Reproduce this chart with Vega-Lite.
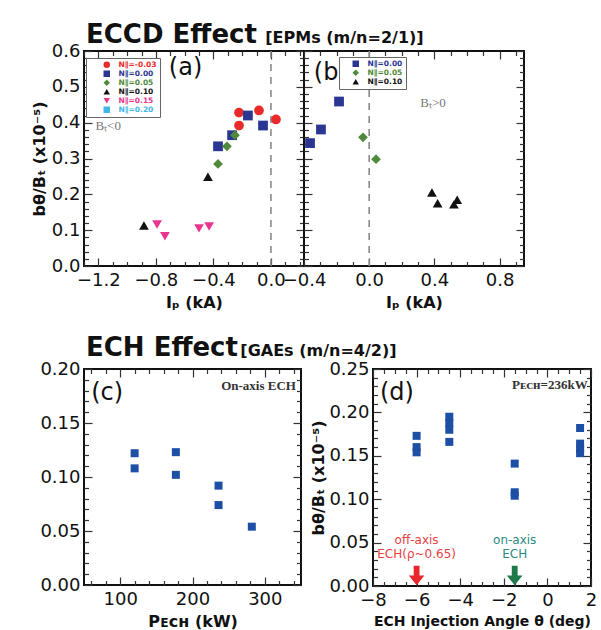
{
  "$schema": "https://vega.github.io/schema/vega-lite/v6.json",
  "background": "white",
  "padding": {"left": 30, "top": 21, "right": 0, "bottom": 0},
  "config": {
    "font": "DejaVu Sans",
    "view": {"stroke": "#111", "strokeWidth": 2},
    "axis": {
      "domain": false, "grid": false,
      "labelFont": "DejaVu Sans", "labelFontSize": 18, "labelColor": "#111",
      "labelOverlap": false, "labelFlush": false, "labelPadding": 12,
      "tickColor": "#333", "tickWidth": 1.2,
      "titleFont": "DejaVu Sans", "titleFontSize": 16, "titleFontWeight": "bold", "titleColor": "#111"
    },
    "legend": {"labelFont": "DejaVu Sans"}
  },
  "datasets": {
    "eccdNeg": [
      {"ip": -0.222, "b": 0.428, "n": "N∥=-0.03"},
      {"ip": -0.083, "b": 0.434, "n": "N∥=-0.03"},
      {"ip": 0.035, "b": 0.409, "n": "N∥=-0.03"},
      {"ip": -0.222, "b": 0.392, "n": "N∥=-0.03"},
      {"ip": -0.16, "b": 0.42, "n": "N∥=0.00"},
      {"ip": -0.055, "b": 0.392, "n": "N∥=0.00"},
      {"ip": -0.27, "b": 0.365, "n": "N∥=0.00"},
      {"ip": -0.368, "b": 0.334, "n": "N∥=0.00"},
      {"ip": -0.25, "b": 0.365, "n": "N∥=0.05"},
      {"ip": -0.306, "b": 0.334, "n": "N∥=0.05"},
      {"ip": -0.368, "b": 0.285, "n": "N∥=0.05"},
      {"ip": -0.438, "b": 0.249, "n": "N∥=0.10"},
      {"ip": -0.883, "b": 0.113, "n": "N∥=0.10"},
      {"ip": -0.792, "b": 0.116, "n": "N∥=0.15"},
      {"ip": -0.737, "b": 0.083, "n": "N∥=0.15"},
      {"ip": -0.5, "b": 0.105, "n": "N∥=0.15"},
      {"ip": -0.43, "b": 0.11, "n": "N∥=0.15"}
    ],
    "eccdPos": [
      {"ip": -0.185, "b": 0.459, "n": "N∥=0.00"},
      {"ip": -0.296, "b": 0.381, "n": "N∥=0.00"},
      {"ip": -0.363, "b": 0.343, "n": "N∥=0.00"},
      {"ip": -0.038, "b": 0.359, "n": "N∥=0.05"},
      {"ip": 0.042, "b": 0.298, "n": "N∥=0.05"},
      {"ip": 0.385, "b": 0.205, "n": "N∥=0.10"},
      {"ip": 0.42, "b": 0.175, "n": "N∥=0.10"},
      {"ip": 0.52, "b": 0.172, "n": "N∥=0.10"},
      {"ip": 0.54, "b": 0.185, "n": "N∥=0.10"}
    ],
    "echPower": [
      {"p": 120, "b": 0.122},
      {"p": 120, "b": 0.108},
      {"p": 177, "b": 0.123},
      {"p": 177, "b": 0.102},
      {"p": 236, "b": 0.092},
      {"p": 236, "b": 0.074},
      {"p": 282, "b": 0.054}
    ],
    "echAngle": [
      {"theta": -6, "b": 0.173},
      {"theta": -6, "b": 0.160},
      {"theta": -6, "b": 0.154},
      {"theta": -4.5, "b": 0.195},
      {"theta": -4.5, "b": 0.188},
      {"theta": -4.5, "b": 0.180},
      {"theta": -4.5, "b": 0.166},
      {"theta": -1.5, "b": 0.141},
      {"theta": -1.5, "b": 0.108},
      {"theta": -1.5, "b": 0.104},
      {"theta": 1.5, "b": 0.182},
      {"theta": 1.5, "b": 0.164},
      {"theta": 1.5, "b": 0.158},
      {"theta": 1.5, "b": 0.153}
    ]
  },
  "spacing": 22,
  "vconcat": [
    {
      "bounds": "flush",
      "spacing": 0,
      "resolve": {"scale": {"color": "independent", "shape": "independent"}, "legend": {"color": "independent", "shape": "independent"}},
      "hconcat": [
        {
          "width": 220, "height": 215,
          "data": {"name": "eccdNeg"},
          "resolve": {"axis": {"x": "independent", "y": "independent"}},
          "layer": [
            {
              "mark": {"type": "point", "opacity": 0},
              "encoding": {
                "x": {"field": "ip", "type": "quantitative",
                  "scale": {"domain": [-1.3, 0.23], "nice": false, "zero": false},
                  "axis": {"orient": "top", "labels": false, "title": null,
                    "values": [-1.3,-1.2,-1.1,-1,-0.9,-0.8,-0.7,-0.6,-0.5,-0.4,-0.3,-0.2,-0.1,0,0.1,0.2],
                    "tickSize": {"condition": {"test": "abs(datum.value/0.4 - round(datum.value/0.4)) < 1e-6", "value": -8}, "value": -4.5}}},
                "y": {"field": "b", "type": "quantitative",
                  "scale": {"domain": [0, 0.6], "nice": false},
                  "axis": {"orient": "right", "labels": false, "title": null,
                    "values": [0,0.02,0.04,0.06,0.08,0.1,0.12,0.14,0.16,0.18,0.2,0.22,0.24,0.26,0.28,0.3,0.32,0.34,0.36,0.38,0.4,0.42,0.44,0.46,0.48,0.5,0.52,0.54,0.56,0.58,0.6],
                    "tickSize": {"condition": {"test": "abs(datum.value*10 - round(datum.value*10)) < 1e-6", "value": -8}, "value": -4.5}}}
              }
            },
            {
              "data": {"values": [{}]},
              "mark": {"type": "rule", "color": "#8a8a8a", "strokeDash": [7, 6], "strokeWidth": 1.6},
              "encoding": {"x": {"datum": 0, "axis": null}}
            },
            {
              "mark": {"type": "point", "filled": true, "size": 95, "opacity": 1},
              "encoding": {
                "x": {"field": "ip", "type": "quantitative",
                  "axis": {"orient": "bottom", "title": "Iₚ (kA)",
                    "values": [-1.3,-1.2,-1.1,-1,-0.9,-0.8,-0.7,-0.6,-0.5,-0.4,-0.3,-0.2,-0.1,0,0.1,0.2],
                    "labelExpr": "abs(datum.value/0.4 - round(datum.value/0.4)) < 1e-6 ? format(datum.value, '.1f') : ''",
                    "labelPadding": 13, "titlePadding": 2,
                    "tickSize": {"condition": {"test": "abs(datum.value/0.4 - round(datum.value/0.4)) < 1e-6", "value": -8}, "value": -4.5}}},
                "y": {"field": "b", "type": "quantitative",
                  "axis": {"orient": "left", "title": "bθ/Bₜ (x10⁻⁵)",
                    "values": [0,0.02,0.04,0.06,0.08,0.1,0.12,0.14,0.16,0.18,0.2,0.22,0.24,0.26,0.28,0.3,0.32,0.34,0.36,0.38,0.4,0.42,0.44,0.46,0.48,0.5,0.52,0.54,0.56,0.58,0.6],
                    "labelExpr": "abs(datum.value*10 - round(datum.value*10)) < 1e-6 ? format(datum.value, '.1f') : ''",
                    "labelPadding": 12, "titlePadding": 4,
                    "tickSize": {"condition": {"test": "abs(datum.value*10 - round(datum.value*10)) < 1e-6", "value": -8}, "value": -4.5}}},
                "color": {"field": "n", "type": "nominal",
                  "scale": {"domain": ["N∥=-0.03", "N∥=0.00", "N∥=0.05", "N∥=0.10", "N∥=0.15", "N∥=0.20"],
                            "range": ["#e82a2a", "#2b3592", "#4f8a3c", "#111111", "#e8368f", "#3fb7e8"]},
                  "legend": {"orient": "none", "legendX": 2, "legendY": 7, "title": null,
                    "strokeColor": "#666", "fillColor": "white", "padding": 3, "rowPadding": 0, "symbolOffset": 14,
                    "symbolSize": 42, "symbolStrokeWidth": 0, "labelFontSize": 7.5, "labelFontWeight": "bold", "labelOffset": 8,
                    "labelColor": {"expr": "datum.value == 'N∥=-0.03' ? '#e82a2a' : datum.value == 'N∥=0.00' ? '#2b3592' : datum.value == 'N∥=0.05' ? '#4f8a3c' : datum.value == 'N∥=0.10' ? '#111111' : datum.value == 'N∥=0.15' ? '#e8368f' : '#3fb7e8'"}}},
                "shape": {"field": "n", "type": "nominal",
                  "scale": {"domain": ["N∥=-0.03", "N∥=0.00", "N∥=0.05", "N∥=0.10", "N∥=0.15", "N∥=0.20"],
                            "range": ["circle", "square", "diamond", "triangle-up", "triangle-down", "square"]},
                  "legend": {"orient": "none", "legendX": 2, "legendY": 7, "title": null,
                    "strokeColor": "#666", "fillColor": "white", "padding": 3, "rowPadding": 0, "symbolOffset": 14,
                    "symbolSize": 42, "symbolStrokeWidth": 0, "labelFontSize": 7.5, "labelFontWeight": "bold", "labelOffset": 8,
                    "labelColor": {"expr": "datum.value == 'N∥=-0.03' ? '#e82a2a' : datum.value == 'N∥=0.00' ? '#2b3592' : datum.value == 'N∥=0.05' ? '#4f8a3c' : datum.value == 'N∥=0.10' ? '#111111' : datum.value == 'N∥=0.15' ? '#e8368f' : '#3fb7e8'"}}}
              }
            },
            {
              "data": {"values": [{}]},
              "mark": {"type": "text", "text": "ECCD Effect", "font": "DejaVu Sans", "fontSize": 26, "fontWeight": "bold", "align": "left", "baseline": "alphabetic", "dy": -8, "dx": 2, "color": "#111"},
              "encoding": {"x": {"datum": -1.3, "axis": null}, "y": {"datum": 0.6, "axis": null}}
            },
            {
              "data": {"values": [{}]},
              "mark": {"type": "text", "text": "[EPMs (m/n=2/1)]", "font": "DejaVu Sans", "fontSize": 16, "fontWeight": "bold", "align": "left", "baseline": "alphabetic", "dy": -8, "dx": 3, "color": "#111"},
              "encoding": {"x": {"datum": -0.06, "axis": null}, "y": {"datum": 0.6, "axis": null}}
            },
            {
              "data": {"values": [{}]},
              "mark": {"type": "text", "text": "(a)", "font": "DejaVu Sans", "fontSize": 24, "align": "left", "baseline": "middle", "color": "#111"},
              "encoding": {"x": {"datum": -0.71, "axis": null}, "y": {"datum": 0.552, "axis": null}}
            },
            {
              "data": {"values": [{}]},
              "mark": {"type": "text", "text": "Bₜ<0", "font": "Liberation Serif", "fontSize": 13, "align": "left", "baseline": "middle", "color": "#777"},
              "encoding": {"x": {"datum": -1.22, "axis": null}, "y": {"datum": 0.392, "axis": null}}
            }
          ]
        },
        {
          "width": 220, "height": 215,
          "data": {"name": "eccdPos"},
          "resolve": {"axis": {"x": "independent", "y": "independent"}},
          "layer": [
            {
              "mark": {"type": "point", "opacity": 0},
              "encoding": {
                "x": {"field": "ip", "type": "quantitative",
                  "scale": {"domain": [-0.4, 0.95], "nice": false, "zero": false},
                  "axis": {"orient": "top", "labels": false, "title": null,
                    "values": [-0.4,-0.3,-0.2,-0.1,0,0.1,0.2,0.3,0.4,0.5,0.6,0.7,0.8,0.9],
                    "tickSize": {"condition": {"test": "abs(datum.value/0.4 - round(datum.value/0.4)) < 1e-6", "value": -8}, "value": -4.5}}},
                "y": {"field": "b", "type": "quantitative",
                  "scale": {"domain": [0, 0.6], "nice": false},
                  "axis": {"orient": "right", "labels": false, "title": null,
                    "values": [0,0.02,0.04,0.06,0.08,0.1,0.12,0.14,0.16,0.18,0.2,0.22,0.24,0.26,0.28,0.3,0.32,0.34,0.36,0.38,0.4,0.42,0.44,0.46,0.48,0.5,0.52,0.54,0.56,0.58,0.6],
                    "tickSize": {"condition": {"test": "abs(datum.value*10 - round(datum.value*10)) < 1e-6", "value": -8}, "value": -4.5}}}
              }
            },
            {
              "data": {"values": [{}]},
              "mark": {"type": "rule", "color": "#8a8a8a", "strokeDash": [7, 6], "strokeWidth": 1.6},
              "encoding": {"x": {"datum": 0, "axis": null}}
            },
            {
              "mark": {"type": "point", "filled": true, "size": 95, "opacity": 1},
              "encoding": {
                "x": {"field": "ip", "type": "quantitative",
                  "axis": {"orient": "bottom", "title": "Iₚ (kA)",
                    "values": [-0.4,-0.3,-0.2,-0.1,0,0.1,0.2,0.3,0.4,0.5,0.6,0.7,0.8,0.9],
                    "labelExpr": "abs(datum.value/0.4 - round(datum.value/0.4)) < 1e-6 ? format(datum.value, '.1f') : ''",
                    "labelPadding": 13, "titlePadding": 2,
                    "tickSize": {"condition": {"test": "abs(datum.value/0.4 - round(datum.value/0.4)) < 1e-6", "value": -8}, "value": -4.5}}},
                "y": {"field": "b", "type": "quantitative",
                  "axis": {"orient": "left", "title": null, "labels": false,
                    "values": [0,0.02,0.04,0.06,0.08,0.1,0.12,0.14,0.16,0.18,0.2,0.22,0.24,0.26,0.28,0.3,0.32,0.34,0.36,0.38,0.4,0.42,0.44,0.46,0.48,0.5,0.52,0.54,0.56,0.58,0.6],
                    "tickSize": {"condition": {"test": "abs(datum.value*10 - round(datum.value*10)) < 1e-6", "value": -8}, "value": -4.5}}},
                "color": {"field": "n", "type": "nominal",
                  "scale": {"domain": ["N∥=0.00", "N∥=0.05", "N∥=0.10"], "range": ["#2b3592", "#4f8a3c", "#111111"]},
                  "legend": {"orient": "none", "legendX": 35, "legendY": 6, "title": null,
                    "strokeColor": "#666", "fillColor": "white", "padding": 3, "rowPadding": 0, "symbolOffset": 10,
                    "symbolSize": 42, "symbolStrokeWidth": 0, "labelFontSize": 7.5, "labelFontWeight": "bold", "labelOffset": 8,
                    "labelColor": {"expr": "datum.value == 'N∥=0.00' ? '#2b3592' : datum.value == 'N∥=0.05' ? '#4f8a3c' : '#111111'"}}},
                "shape": {"field": "n", "type": "nominal",
                  "scale": {"domain": ["N∥=0.00", "N∥=0.05", "N∥=0.10"], "range": ["square", "diamond", "triangle-up"]},
                  "legend": {"orient": "none", "legendX": 35, "legendY": 6, "title": null,
                    "strokeColor": "#666", "fillColor": "white", "padding": 3, "rowPadding": 0, "symbolOffset": 10,
                    "symbolSize": 42, "symbolStrokeWidth": 0, "labelFontSize": 7.5, "labelFontWeight": "bold", "labelOffset": 8,
                    "labelColor": {"expr": "datum.value == 'N∥=0.00' ? '#2b3592' : datum.value == 'N∥=0.05' ? '#4f8a3c' : '#111111'"}}}
              }
            },
            {
              "data": {"values": [{}]},
              "mark": {"type": "text", "text": "(b)", "font": "DejaVu Sans", "fontSize": 24, "align": "left", "baseline": "middle", "color": "#111"},
              "encoding": {"x": {"datum": -0.34, "axis": null}, "y": {"datum": 0.54, "axis": null}}
            },
            {
              "data": {"values": [{}]},
              "mark": {"type": "text", "text": "Bₜ>0", "font": "Liberation Serif", "fontSize": 13, "align": "right", "baseline": "middle", "color": "#777"},
              "encoding": {"x": {"datum": 0.47, "axis": null}, "y": {"datum": 0.455, "axis": null}}
            }
          ]
        }
      ]
    },
    {
      "bounds": "flush",
      "spacing": 72,
      "hconcat": [
        {
          "width": 217, "height": 216,
          "data": {"name": "echPower"},
          "resolve": {"axis": {"x": "independent", "y": "independent"}},
          "layer": [
            {
              "mark": {"type": "point", "opacity": 0},
              "encoding": {
                "x": {"field": "p", "type": "quantitative",
                  "scale": {"domain": [50, 350], "nice": false, "zero": false},
                  "axis": {"orient": "top", "labels": false, "title": null,
                    "values": [60,80,100,120,140,160,180,200,220,240,260,280,300,320,340],
                    "tickSize": {"condition": {"test": "datum.value % 100 == 0", "value": -8}, "value": -4.5}}},
                "y": {"field": "b", "type": "quantitative",
                  "scale": {"domain": [0, 0.2], "nice": false},
                  "axis": {"orient": "right", "labels": false, "title": null,
                    "values": [0,0.01,0.02,0.03,0.04,0.05,0.06,0.07,0.08,0.09,0.1,0.11,0.12,0.13,0.14,0.15,0.16,0.17,0.18,0.19,0.2],
                    "tickSize": {"condition": {"test": "abs(datum.value*20 - round(datum.value*20)) < 1e-6", "value": -8}, "value": -4.5}}}
              }
            },
            {
              "mark": {"type": "square", "size": 64, "color": "#1d4fa5", "opacity": 1},
              "encoding": {
                "x": {"field": "p", "type": "quantitative",
                  "axis": {"orient": "bottom", "title": "Pᴇᴄʜ (kW)",
                    "values": [60,80,100,120,140,160,180,200,220,240,260,280,300,320,340],
                    "labelExpr": "datum.value % 100 == 0 ? format(datum.value, 'd') : ''",
                    "labelPadding": 13, "titlePadding": 2,
                    "tickSize": {"condition": {"test": "datum.value % 100 == 0", "value": -8}, "value": -4.5}}},
                "y": {"field": "b", "type": "quantitative",
                  "axis": {"orient": "left", "title": null,
                    "values": [0,0.01,0.02,0.03,0.04,0.05,0.06,0.07,0.08,0.09,0.1,0.11,0.12,0.13,0.14,0.15,0.16,0.17,0.18,0.19,0.2],
                    "labelExpr": "abs(datum.value*20 - round(datum.value*20)) < 1e-6 ? format(datum.value, '.2f') : ''",
                    "labelPadding": 12,
                    "tickSize": {"condition": {"test": "abs(datum.value*20 - round(datum.value*20)) < 1e-6", "value": -8}, "value": -4.5}}}
              }
            },
            {
              "data": {"values": [{}]},
              "mark": {"type": "text", "text": "ECH Effect", "font": "DejaVu Sans", "fontSize": 26, "fontWeight": "bold", "align": "left", "baseline": "alphabetic", "dy": -13, "dx": 2, "color": "#111"},
              "encoding": {"x": {"datum": 50, "axis": null}, "y": {"datum": 0.2, "axis": null}}
            },
            {
              "data": {"values": [{}]},
              "mark": {"type": "text", "text": "[GAEs (m/n=4/2)]", "font": "DejaVu Sans", "fontSize": 16, "fontWeight": "bold", "align": "left", "baseline": "alphabetic", "dy": -13, "dx": 3, "color": "#111"},
              "encoding": {"x": {"datum": 262, "axis": null}, "y": {"datum": 0.2, "axis": null}}
            },
            {
              "data": {"values": [{}]},
              "mark": {"type": "text", "text": "(c)", "font": "DejaVu Sans", "fontSize": 24, "align": "left", "baseline": "middle", "color": "#111"},
              "encoding": {"x": {"datum": 60, "axis": null}, "y": {"datum": 0.178, "axis": null}}
            },
            {
              "data": {"values": [{}]},
              "mark": {"type": "text", "text": "On-axis ECH", "font": "Liberation Serif", "fontSize": 13, "fontWeight": "bold", "align": "right", "baseline": "middle", "color": "#333"},
              "encoding": {"x": {"datum": 343, "axis": null}, "y": {"datum": 0.184, "axis": null}}
            }
          ]
        },
        {
          "width": 218, "height": 217,
          "data": {"name": "echAngle"},
          "resolve": {"axis": {"x": "independent", "y": "independent"}},
          "layer": [
            {
              "mark": {"type": "point", "opacity": 0},
              "encoding": {
                "x": {"field": "theta", "type": "quantitative",
                  "scale": {"domain": [-8, 2], "nice": false, "zero": false},
                  "axis": {"orient": "top", "labels": false, "title": null,
                    "values": [-8,-7.5,-7,-6.5,-6,-5.5,-5,-4.5,-4,-3.5,-3,-2.5,-2,-1.5,-1,-0.5,0,0.5,1,1.5,2],
                    "tickSize": {"condition": {"test": "datum.value % 2 == 0", "value": -8}, "value": -4.5}}},
                "y": {"field": "b", "type": "quantitative",
                  "scale": {"domain": [0, 0.25], "nice": false},
                  "axis": {"orient": "right", "labels": false, "title": null,
                    "values": [0,0.01,0.02,0.03,0.04,0.05,0.06,0.07,0.08,0.09,0.1,0.11,0.12,0.13,0.14,0.15,0.16,0.17,0.18,0.19,0.2,0.21,0.22,0.23,0.24,0.25],
                    "tickSize": {"condition": {"test": "abs(datum.value*20 - round(datum.value*20)) < 1e-6", "value": -8}, "value": -4.5}}}
              }
            },
            {
              "mark": {"type": "square", "size": 64, "color": "#1d4fa5", "opacity": 1},
              "encoding": {
                "x": {"field": "theta", "type": "quantitative",
                  "axis": {"orient": "bottom", "title": "ECH Injection Angle θ (deg)",
                    "values": [-8,-7.5,-7,-6.5,-6,-5.5,-5,-4.5,-4,-3.5,-3,-2.5,-2,-1.5,-1,-0.5,0,0.5,1,1.5,2],
                    "labelExpr": "datum.value % 2 == 0 ? format(datum.value, 'd') : ''",
                    "labelPadding": 13, "titlePadding": 2, "titleFontSize": 14,
                    "tickSize": {"condition": {"test": "datum.value % 2 == 0", "value": -8}, "value": -4.5}}},
                "y": {"field": "b", "type": "quantitative",
                  "axis": {"orient": "left", "title": "bθ/Bₜ (x10⁻⁵)", "titlePadding": 2,
                    "values": [0,0.01,0.02,0.03,0.04,0.05,0.06,0.07,0.08,0.09,0.1,0.11,0.12,0.13,0.14,0.15,0.16,0.17,0.18,0.19,0.2,0.21,0.22,0.23,0.24,0.25],
                    "labelExpr": "abs(datum.value*20 - round(datum.value*20)) < 1e-6 ? format(datum.value, '.2f') : ''",
                    "labelPadding": 12,
                    "tickSize": {"condition": {"test": "abs(datum.value*20 - round(datum.value*20)) < 1e-6", "value": -8}, "value": -4.5}}}
              }
            },
            {
              "data": {"values": [{}]},
              "mark": {"type": "text", "text": "(d)", "font": "DejaVu Sans", "fontSize": 24, "align": "left", "baseline": "middle", "color": "#111"},
              "encoding": {"x": {"datum": -7.68, "axis": null}, "y": {"datum": 0.222, "axis": null}}
            },
            {
              "data": {"values": [{}]},
              "mark": {"type": "text", "text": "Pᴇᴄʜ=236kW", "font": "Liberation Serif", "fontSize": 13, "fontWeight": "bold", "align": "right", "baseline": "middle", "color": "#333"},
              "encoding": {"x": {"datum": 1.85, "axis": null}, "y": {"datum": 0.232, "axis": null}}
            },
            {
              "data": {"values": [{}]},
              "mark": {"type": "text", "text": "off-axis", "font": "DejaVu Sans", "fontSize": 12, "align": "center", "baseline": "middle", "color": "#e8403f"},
              "encoding": {"x": {"datum": -6, "axis": null}, "y": {"datum": 0.0535, "axis": null}}
            },
            {
              "data": {"values": [{}]},
              "mark": {"type": "text", "text": "ECH(ρ~0.65)", "font": "DejaVu Sans", "fontSize": 12, "align": "center", "baseline": "middle", "color": "#e8403f"},
              "encoding": {"x": {"datum": -6, "axis": null}, "y": {"datum": 0.037, "axis": null}}
            },
            {
              "data": {"values": [{}]},
              "mark": {"type": "text", "text": "on-axis", "font": "DejaVu Sans", "fontSize": 12, "align": "center", "baseline": "middle", "color": "#2c8a80"},
              "encoding": {"x": {"datum": -1.5, "axis": null}, "y": {"datum": 0.0535, "axis": null}}
            },
            {
              "data": {"values": [{}]},
              "mark": {"type": "text", "text": "ECH", "font": "DejaVu Sans", "fontSize": 12, "align": "center", "baseline": "middle", "color": "#2c8a80"},
              "encoding": {"x": {"datum": -1.5, "axis": null}, "y": {"datum": 0.037, "axis": null}}
            },
            {
              "data": {"values": [{}]},
              "mark": {"type": "point", "shape": "M-0.3,-1L0.3,-1L0.3,0L0.8,0L0,1L-0.8,0L-0.3,0Z", "size": 380, "filled": true, "color": "#e8262b", "opacity": 1},
              "encoding": {"x": {"datum": -6, "axis": null}, "y": {"datum": 0.012, "axis": null}}
            },
            {
              "data": {"values": [{}]},
              "mark": {"type": "point", "shape": "M-0.3,-1L0.3,-1L0.3,0L0.8,0L0,1L-0.8,0L-0.3,0Z", "size": 380, "filled": true, "color": "#1f7a4a", "opacity": 1},
              "encoding": {"x": {"datum": -1.5, "axis": null}, "y": {"datum": 0.012, "axis": null}}
            }
          ]
        }
      ]
    }
  ]
}
